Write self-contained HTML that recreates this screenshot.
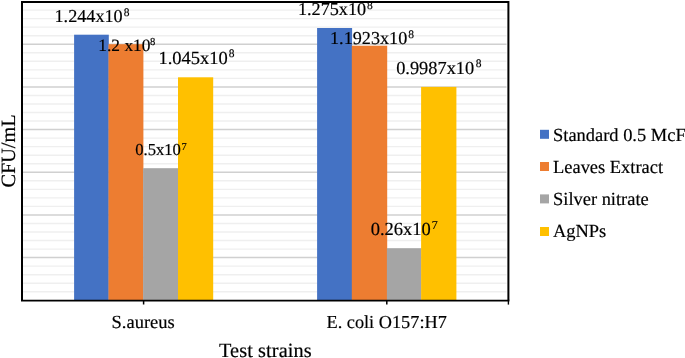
<!DOCTYPE html>
<html><head><meta charset="utf-8"><style>
html,body{margin:0;padding:0;background:#fff;}
body{width:685px;height:358px;overflow:hidden;}
svg{display:block;filter:blur(0.3px);}
text{font-family:"Liberation Serif", serif;fill:#000;stroke:#000;stroke-width:0.18px;text-rendering:geometricPrecision;}
</style></head><body>
<svg width="685" height="358" viewBox="0 0 685 358">
<rect width="685" height="358" fill="#fff"/>
<line x1="23" x2="506.5" y1="291.76" y2="291.76" stroke="#EFEFEF" stroke-width="1.4"/>
<line x1="23" x2="506.5" y1="283.23" y2="283.23" stroke="#EFEFEF" stroke-width="1.4"/>
<line x1="23" x2="506.5" y1="274.69" y2="274.69" stroke="#EFEFEF" stroke-width="1.4"/>
<line x1="23" x2="506.5" y1="266.16" y2="266.16" stroke="#EFEFEF" stroke-width="1.4"/>
<line x1="23" x2="506.5" y1="257.62" y2="257.62" stroke="#D0D0D0" stroke-width="1.5"/>
<line x1="23" x2="506.5" y1="249.08" y2="249.08" stroke="#EFEFEF" stroke-width="1.4"/>
<line x1="23" x2="506.5" y1="240.55" y2="240.55" stroke="#EFEFEF" stroke-width="1.4"/>
<line x1="23" x2="506.5" y1="232.01" y2="232.01" stroke="#EFEFEF" stroke-width="1.4"/>
<line x1="23" x2="506.5" y1="223.48" y2="223.48" stroke="#EFEFEF" stroke-width="1.4"/>
<line x1="23" x2="506.5" y1="214.94" y2="214.94" stroke="#D0D0D0" stroke-width="1.5"/>
<line x1="23" x2="506.5" y1="206.40" y2="206.40" stroke="#EFEFEF" stroke-width="1.4"/>
<line x1="23" x2="506.5" y1="197.87" y2="197.87" stroke="#EFEFEF" stroke-width="1.4"/>
<line x1="23" x2="506.5" y1="189.33" y2="189.33" stroke="#EFEFEF" stroke-width="1.4"/>
<line x1="23" x2="506.5" y1="180.80" y2="180.80" stroke="#EFEFEF" stroke-width="1.4"/>
<line x1="23" x2="506.5" y1="172.26" y2="172.26" stroke="#D0D0D0" stroke-width="1.5"/>
<line x1="23" x2="506.5" y1="163.72" y2="163.72" stroke="#EFEFEF" stroke-width="1.4"/>
<line x1="23" x2="506.5" y1="155.19" y2="155.19" stroke="#EFEFEF" stroke-width="1.4"/>
<line x1="23" x2="506.5" y1="146.65" y2="146.65" stroke="#EFEFEF" stroke-width="1.4"/>
<line x1="23" x2="506.5" y1="138.12" y2="138.12" stroke="#EFEFEF" stroke-width="1.4"/>
<line x1="23" x2="506.5" y1="129.58" y2="129.58" stroke="#D0D0D0" stroke-width="1.5"/>
<line x1="23" x2="506.5" y1="121.04" y2="121.04" stroke="#EFEFEF" stroke-width="1.4"/>
<line x1="23" x2="506.5" y1="112.51" y2="112.51" stroke="#EFEFEF" stroke-width="1.4"/>
<line x1="23" x2="506.5" y1="103.97" y2="103.97" stroke="#EFEFEF" stroke-width="1.4"/>
<line x1="23" x2="506.5" y1="95.44" y2="95.44" stroke="#EFEFEF" stroke-width="1.4"/>
<line x1="23" x2="506.5" y1="86.90" y2="86.90" stroke="#D0D0D0" stroke-width="1.5"/>
<line x1="23" x2="506.5" y1="78.36" y2="78.36" stroke="#EFEFEF" stroke-width="1.4"/>
<line x1="23" x2="506.5" y1="69.83" y2="69.83" stroke="#EFEFEF" stroke-width="1.4"/>
<line x1="23" x2="506.5" y1="61.29" y2="61.29" stroke="#EFEFEF" stroke-width="1.4"/>
<line x1="23" x2="506.5" y1="52.76" y2="52.76" stroke="#EFEFEF" stroke-width="1.4"/>
<line x1="23" x2="506.5" y1="44.22" y2="44.22" stroke="#D0D0D0" stroke-width="1.5"/>
<line x1="23" x2="506.5" y1="35.68" y2="35.68" stroke="#EFEFEF" stroke-width="1.4"/>
<line x1="23" x2="506.5" y1="27.15" y2="27.15" stroke="#EFEFEF" stroke-width="1.4"/>
<line x1="23" x2="506.5" y1="18.61" y2="18.61" stroke="#EFEFEF" stroke-width="1.4"/>
<line x1="23" x2="506.5" y1="10.08" y2="10.08" stroke="#EFEFEF" stroke-width="1.4"/>
<rect x="74.10" y="34.7" width="34.70" height="265.80" fill="#4472C4"/>
<rect x="108.50" y="44.2" width="34.90" height="256.30" fill="#ED7D31"/>
<rect x="143.10" y="168.2" width="35.20" height="132.30" fill="#A5A5A5"/>
<rect x="178.00" y="77.3" width="35.20" height="223.20" fill="#FFC000"/>
<rect x="317.10" y="28.0" width="35.00" height="272.50" fill="#4472C4"/>
<rect x="351.80" y="45.7" width="35.40" height="254.80" fill="#ED7D31"/>
<rect x="386.90" y="248.2" width="34.50" height="52.30" fill="#A5A5A5"/>
<rect x="421.10" y="86.9" width="35.30" height="213.60" fill="#FFC000"/>
<path d="M22,300.5 V2 H508.4 V300.5" fill="none" stroke="#000" stroke-width="2"/>
<line x1="21" x2="509.4" y1="300.55" y2="300.55" stroke="#000" stroke-width="1.8"/>
<line x1="143.6" x2="143.6" y1="301" y2="304.5" stroke="#000" stroke-width="1.5"/>
<line x1="386.8" x2="386.8" y1="301" y2="304.5" stroke="#000" stroke-width="1.5"/>
<line x1="508.4" x2="508.4" y1="301" y2="304.6" stroke="#000" stroke-width="1.4"/>
<text x="54.50" y="22.10" font-size="18.2">1.244x10<tspan font-size="11.5" dx="1.0" dy="-6.60">8</tspan></text>
<text x="98.34" y="50.60" font-size="17.4">1.2 x10<tspan font-size="10.6" dx="-0.4" dy="-6.00">8</tspan></text>
<text x="158.48" y="64.00" font-size="18.5">1.045x10<tspan font-size="11.5" dx="1.0" dy="-6.60">8</tspan></text>
<text x="135.17" y="155.10" font-size="16.65">0.5x10<tspan font-size="10.5" dx="0.6" dy="-4.90">7</tspan></text>
<text x="297.90" y="15.10" font-size="18.2">1.275x10<tspan font-size="11.5" dx="1.0" dy="-6.60">8</tspan></text>
<text x="330.00" y="44.20" font-size="18.2">1.1923x10<tspan font-size="11.5" dx="1.0" dy="-6.60">8</tspan></text>
<text x="396.20" y="74.00" font-size="18.35">0.9987x10<tspan font-size="11.5" dx="1.6" dy="-6.60">8</tspan></text>
<text x="370.70" y="234.70" font-size="18.5">0.26x10<tspan font-size="12" dx="0.8" dy="-5.30">7</tspan></text>
<text x="111.56" y="327.80" font-size="18.5">S.aureus</text>
<text x="326.47" y="328.40" font-size="18.3">E. coli O157:H7</text>
<text x="218.93" y="356.60" font-size="20.3" letter-spacing="0.12">Test strains</text>
<text transform="translate(14.7,187.6) rotate(-90)" font-size="20.3">CFU/mL</text>
<rect x="540" y="129.8" width="9" height="9" fill="#4472C4"/>
<text x="553.00" y="140.50" font-size="18.45">Standard 0.5 McF</text>
<rect x="540" y="162.0" width="9" height="9" fill="#ED7D31"/>
<text x="553.00" y="172.80" font-size="18.45">Leaves Extract</text>
<rect x="540" y="194.4" width="9" height="9" fill="#A5A5A5"/>
<text x="553.00" y="205.00" font-size="18.45">Silver nitrate</text>
<rect x="540" y="227.0" width="9" height="9" fill="#FFC000"/>
<text x="553.00" y="237.00" font-size="18.45">AgNPs</text>
</svg>
</body></html>
